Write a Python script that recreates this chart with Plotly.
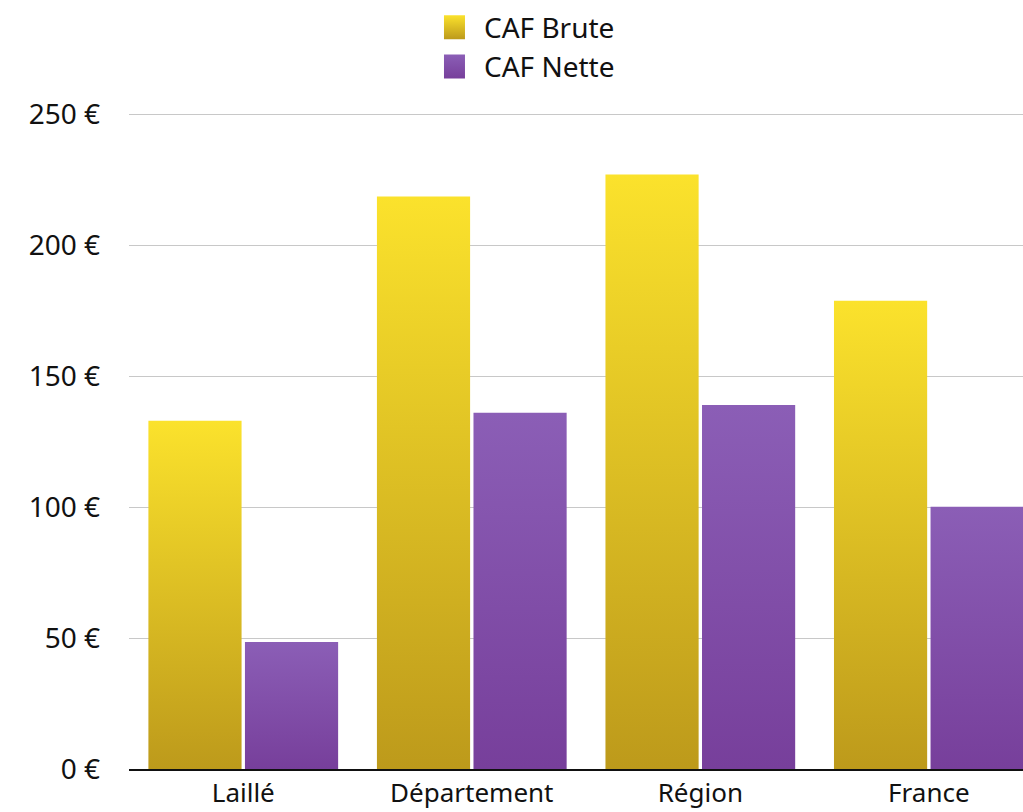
import plotly.graph_objects as go

categories = ['Laillé', 'Département', 'Région', 'France']
caf_brute = [133, 218.7, 227.1, 178.9]
caf_nette = [48.5, 136.1, 139.1, 100.2]
tick_vals = [0, 50, 100, 150, 200, 250]
tick_text = ['0 €', '50 €', '100 €', '150 €', '200 €', '250 €']

YEL, PUR = '#E6C825', '#8450A8'
FONT = 'Noto Sans, Open Sans, sans-serif'

fig = go.Figure()
fig.add_bar(x=categories, y=caf_brute, name='CAF Brute', marker=dict(color=YEL, line_width=0), showlegend=False)
fig.add_bar(x=categories, y=caf_nette, name='CAF Nette', marker=dict(color=PUR, line_width=0), showlegend=False)
# legend entries (square swatches, enlarged in the post script)
fig.add_scatter(x=[None], y=[None], mode='markers', name='CAF Brute',
                marker=dict(symbol='square', size=16, color=YEL, line_width=0))
fig.add_scatter(x=[None], y=[None], mode='markers', name='CAF Nette',
                marker=dict(symbol='square', size=16, color=PUR, line_width=0))

fig.update_layout(
    width=1023, height=812, template='plotly_white',
    font=dict(family=FONT, size=26, color='#111'),
    barmode='group', bargap=0.155, bargroupgap=0.035,
    margin=dict(l=129, r=0, t=112, b=43, autoexpand=False),
    plot_bgcolor='white', paper_bgcolor='white',
    legend=dict(x=0.434, xref='container', xanchor='left', y=0.997, yref='container', yanchor='top',
                font=dict(size=28), itemwidth=30, tracegroupgap=0, bgcolor='rgba(0,0,0,0)'),
    xaxis=dict(range=[-0.5, 3.412], showgrid=False, showline=True, linecolor='#111', linewidth=2,
               ticks='', tickangle=0, tickfont=dict(size=26)),
    yaxis=dict(range=[0, 251], tickvals=tick_vals, ticktext=tick_text, showgrid=True,
               gridcolor='#c8c8c8', gridwidth=1, zeroline=False, ticks='', ticklabelstandoff=28,
               tickfont=dict(size=28)),
)

JS = """
document.body.style.margin = '0';
var gd = document.getElementById('{plot_id}');
function paint(){
  var svg = gd.querySelector('svg.main-svg'); if(!svg) return;
  var ns = 'http://www.w3.org/2000/svg';
  var defs = svg.querySelector('defs');
  function grad(id, top, bot){
    if (svg.querySelector('#'+id)) return;
    var g = document.createElementNS(ns, 'linearGradient');
    g.setAttribute('id', id); g.setAttribute('x1','0'); g.setAttribute('y1','0');
    g.setAttribute('x2','0'); g.setAttribute('y2','1');
    [[0, top], [1, bot]].forEach(function(s){
      var st = document.createElementNS(ns, 'stop');
      st.setAttribute('offset', s[0]); st.setAttribute('stop-color', s[1]); g.appendChild(st);
    });
    defs.appendChild(g);
  }
  grad('gBrute', '#FBE22C', '#BD9A1B');
  grad('gNette', '#8B5EB6', '#773F9B');
  var tr = gd.querySelectorAll('.barlayer .trace');
  var ids = ['gBrute', 'gNette'];
  tr.forEach(function(t, i){ t.querySelectorAll('path').forEach(function(p){ p.style.fill = 'url(#'+ids[i]+')'; }); });
  var lg = gd.querySelectorAll('.legend .traces');
  lg.forEach(function(t, i){ t.querySelectorAll('path.scatterpts').forEach(function(p){
    p.setAttribute('d', 'M-23,-12H1V12H-23Z'); p.style.fill = 'url(#'+ids[i]+')'; }); });
}
paint();
gd.on('plotly_afterplot', paint);
"""

fig.write_html('out.html', post_script=JS, config={'displayModeBar': False})
